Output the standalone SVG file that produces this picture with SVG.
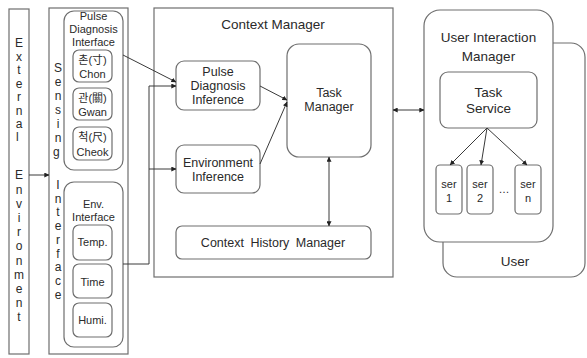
<svg xmlns="http://www.w3.org/2000/svg" width="587" height="358" viewBox="0 0 587 358">
  <defs>
    <style>
      .box { fill: #fff; stroke: #6e6e6e; stroke-width: 1.2; }
      .t { font-family: "Liberation Sans", "Noto Sans CJK KR", Arial, sans-serif; fill: #2a2a2a; text-anchor: middle; }
      .s11 { font-size: 11px; }
      .s12 { font-size: 12.5px; }
      .s13 { font-size: 13.5px; }
      .v { font-size: 12px; }
      .ln { fill: none; stroke: #3a3a3a; stroke-width: 1; }
    </style>
    <marker id="ah" viewBox="0 0 8 8" refX="7.5" refY="4" markerWidth="5" markerHeight="5" orient="auto-start-reverse" markerUnits="userSpaceOnUse">
      <path d="M0,0 L8,4 L0,8 z" fill="#222"/>
    </marker>
  </defs>

  <rect width="587" height="358" fill="#fff"/>

  <!-- External Environment -->
  <g id="external-environment">
    <rect class="box" x="9" y="9" width="20" height="345"/>
    <text class="t v">
      <tspan x="19" y="47">E</tspan><tspan x="19" y="61">x</tspan><tspan x="19" y="74">t</tspan><tspan x="19" y="88">e</tspan><tspan x="19" y="101">r</tspan><tspan x="19" y="115">n</tspan><tspan x="19" y="128">a</tspan><tspan x="19" y="141">l</tspan>
      <tspan x="19" y="179">E</tspan><tspan x="19" y="194">n</tspan><tspan x="19" y="208">v</tspan><tspan x="19" y="222">i</tspan><tspan x="19" y="236">r</tspan><tspan x="19" y="250">o</tspan><tspan x="19" y="265">n</tspan><tspan x="19" y="279">m</tspan><tspan x="19" y="293">e</tspan><tspan x="19" y="307">n</tspan><tspan x="19" y="321">t</tspan>
    </text>
  </g>

  <!-- Sensing Interface -->
  <g id="sensing-interface">
    <rect class="box" x="49" y="8" width="79" height="346"/>
    <text class="t v">
      <tspan x="58" y="72">S</tspan><tspan x="58" y="86">e</tspan><tspan x="58" y="100">n</tspan><tspan x="58" y="114">s</tspan><tspan x="58" y="128">i</tspan><tspan x="58" y="142">n</tspan><tspan x="58" y="156">g</tspan>
      <tspan x="58" y="189">I</tspan><tspan x="58" y="203">n</tspan><tspan x="58" y="216">t</tspan><tspan x="58" y="230">e</tspan><tspan x="58" y="244">r</tspan><tspan x="58" y="258">f</tspan><tspan x="58" y="271">a</tspan><tspan x="58" y="285">c</tspan><tspan x="58" y="299">e</tspan>
    </text>
  </g>

  <!-- Pulse Diagnosis Interface -->
  <g id="pulse-diagnosis-interface">
    <rect class="box" x="64" y="11" width="59" height="159" rx="10"/>
    <text class="t s11"><tspan x="93.5" y="20">Pulse</tspan><tspan x="93.5" y="33">Diagnosis</tspan><tspan x="93.5" y="46">Interface</tspan></text>
  </g>
  <g id="chon">
    <rect class="box" x="73" y="50" width="39" height="32" rx="6"/>
    <text class="t s11"><tspan x="92.5" y="64">촌(寸)</tspan><tspan x="92.5" y="78">Chon</tspan></text>
  </g>
  <g id="gwan">
    <rect class="box" x="73" y="88" width="39" height="32" rx="6"/>
    <text class="t s11"><tspan x="92.5" y="102">관(關)</tspan><tspan x="92.5" y="116">Gwan</tspan></text>
  </g>
  <g id="cheok">
    <rect class="box" x="73" y="127" width="39" height="33" rx="6"/>
    <text class="t s11"><tspan x="92.5" y="141">척(尺)</tspan><tspan x="92.5" y="156">Cheok</tspan></text>
  </g>

  <!-- Env. Interface -->
  <g id="env-interface">
    <rect class="box" x="64" y="182" width="59" height="165" rx="10"/>
    <text class="t s11"><tspan x="93.5" y="208">Env.</tspan><tspan x="93.5" y="221">Interface</tspan></text>
  </g>
  <g id="temp">
    <rect class="box" x="73" y="225" width="39" height="35" rx="6"/>
    <text class="t s11" x="92.5" y="246">Temp.</text>
  </g>
  <g id="time">
    <rect class="box" x="73" y="264" width="39" height="34" rx="6"/>
    <text class="t s11" x="92.5" y="286">Time</text>
  </g>
  <g id="humi">
    <rect class="box" x="73" y="303" width="39" height="34" rx="6"/>
    <text class="t s11" x="92.5" y="324">Humi.</text>
  </g>

  <!-- Context Manager -->
  <g id="context-manager">
    <rect class="box" x="154" y="8" width="239" height="269"/>
    <text class="t s13" x="273" y="29">Context Manager</text>
  </g>
  <g id="pulse-diagnosis-inference">
    <rect class="box" x="176" y="61" width="84" height="49" rx="8"/>
    <text class="t s12"><tspan x="218" y="76">Pulse</tspan><tspan x="218" y="90">Diagnosis</tspan><tspan x="218" y="104">Inference</tspan></text>
  </g>
  <g id="environment-inference">
    <rect class="box" x="176" y="145" width="84" height="48" rx="8"/>
    <text class="t s12"><tspan x="218" y="167">Environment</tspan><tspan x="218" y="181">Inference</tspan></text>
  </g>
  <g id="task-manager">
    <rect class="box" x="287" y="44" width="84" height="113" rx="12"/>
    <text class="t s12"><tspan x="329" y="97">Task</tspan><tspan x="329" y="111">Manager</tspan></text>
  </g>
  <g id="context-history-manager">
    <rect class="box" x="176" y="226" width="195" height="33" rx="6"/>
    <text class="t s12" x="273" y="247" word-spacing="3">Context History Manager</text>
  </g>

  <!-- User (behind) and User Interaction Manager -->
  <g id="user">
    <rect class="box" x="443" y="43" width="142" height="234" rx="14"/>
    <text class="t s13" x="515" y="266">User</text>
  </g>
  <g id="user-interaction-manager">
    <rect class="box" x="424" y="10" width="129" height="232" rx="16"/>
    <text class="t s13"><tspan x="488.5" y="42">User Interaction</tspan><tspan x="488.5" y="61">Manager</tspan></text>
  </g>
  <g id="task-service">
    <rect class="box" x="440" y="72" width="97" height="56" rx="8"/>
    <text class="t s13"><tspan x="488.5" y="97">Task</tspan><tspan x="488.5" y="113">Service</tspan></text>
  </g>
  <g id="ser-1">
    <rect class="box" x="436" y="165" width="26" height="49" rx="4"/>
    <text class="t s11"><tspan x="449" y="188">ser</tspan><tspan x="449" y="202">1</tspan></text>
  </g>
  <g id="ser-2">
    <rect class="box" x="467" y="165" width="26" height="49" rx="4"/>
    <text class="t s11"><tspan x="480" y="188">ser</tspan><tspan x="480" y="202">2</tspan></text>
  </g>
  <g id="ellipsis">
    <text class="t s11" x="504" y="193" fill="#777">…</text>
  </g>
  <g id="ser-n">
    <rect class="box" x="515" y="165" width="26" height="49" rx="4"/>
    <text class="t s11"><tspan x="528" y="188">ser</tspan><tspan x="528" y="202">n</tspan></text>
  </g>

  <!-- Connectors -->
  <g id="connectors">
    <line class="ln" x1="29" y1="175" x2="49" y2="175" marker-end="url(#ah)"/>
    <line class="ln" x1="123" y1="55" x2="176" y2="82" marker-end="url(#ah)"/>
    <polyline class="ln" points="123,264 149,264 149,86 176,86" marker-end="url(#ah)"/>
    <line class="ln" x1="149" y1="169" x2="176" y2="169" marker-end="url(#ah)"/>
    <line class="ln" x1="260" y1="86" x2="287" y2="100" marker-end="url(#ah)"/>
    <line class="ln" x1="260" y1="164" x2="287" y2="102" marker-end="url(#ah)"/>
    <line class="ln" x1="329" y1="157" x2="329" y2="226" marker-start="url(#ah)" marker-end="url(#ah)"/>
    <line class="ln" x1="393" y1="110" x2="424" y2="110" marker-start="url(#ah)" marker-end="url(#ah)"/>
    <line class="ln" x1="487" y1="128" x2="450" y2="165" marker-end="url(#ah)"/>
    <line class="ln" x1="487" y1="128" x2="481" y2="165" marker-end="url(#ah)"/>
    <line class="ln" x1="487" y1="128" x2="527" y2="165" marker-end="url(#ah)"/>
  </g>
</svg>
